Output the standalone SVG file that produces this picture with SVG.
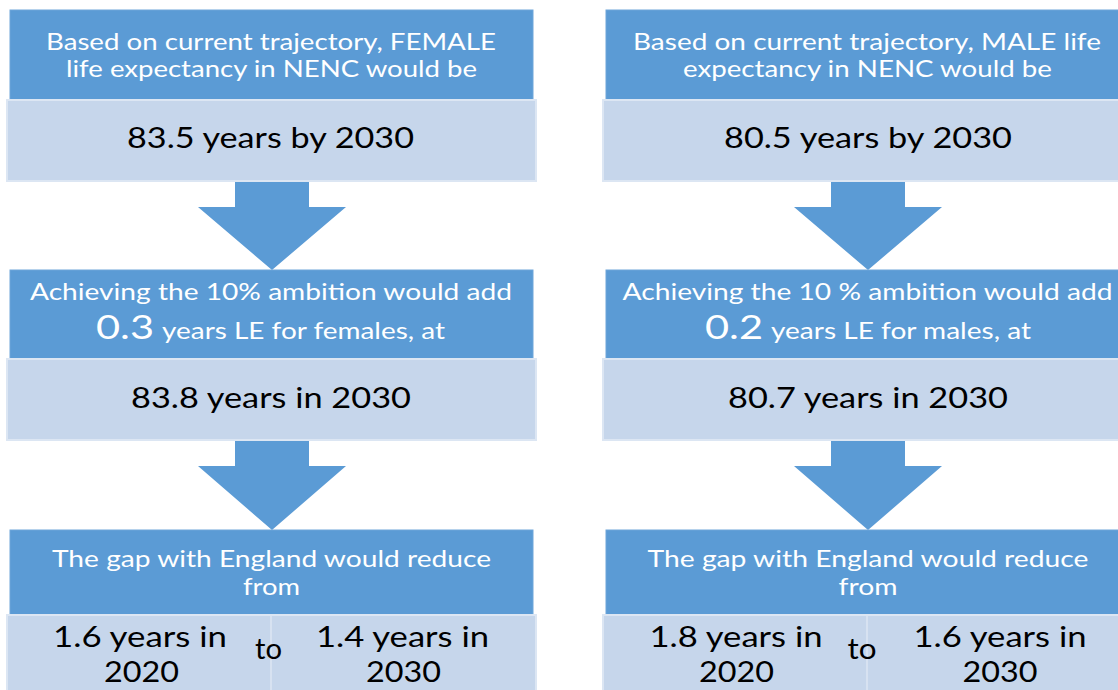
<svg xmlns="http://www.w3.org/2000/svg" width="1118" height="690" viewBox="0 0 1118 690">
<style>
.dark{fill:#5B9BD5;stroke:#6FA6DA;stroke-width:1}
.light{fill:#C6D6EB;stroke:#DCE6F3;stroke-width:2}
.arrow{fill:#5B9BD5}
.wt{font-family:Lato,"Liberation Sans",sans-serif;font-size:23.5px;fill:#FFFFFF;text-anchor:middle}
.ws{font-family:Lato,"Liberation Sans",sans-serif;font-size:23.5px;fill:#FFFFFF}
.bt{font-family:Lato,"Liberation Sans",sans-serif;font-size:28px;fill:#000000;text-anchor:middle}
.big{font-family:Lato,"Liberation Sans",sans-serif;font-size:32px;fill:#FFFFFF}
.div{stroke:#DCE6F3;stroke-width:1.5}
</style>
<rect width="1118" height="690" fill="#FFFFFF"/>
<g id="connectors">
<polygon class="arrow" points="235,181 309,181 309,207 346,207 272,270 198,207 235,207"/>
<polygon class="arrow" points="235,440 309,440 309,466 346,466 272,530 198,466 235,466"/>
<polygon class="arrow" points="831,181 905,181 905,207 942,207 868,270 794,207 831,207"/>
<polygon class="arrow" points="831,440 905,440 905,466 942,466 868,530 794,466 831,466"/>
</g>
<g id="female-trajectory">
<rect class="dark" x="10" y="10" width="523" height="90"/>
<text class="wt" x="271" y="50" textLength="450" lengthAdjust="spacingAndGlyphs">Based on current trajectory, FEMALE</text>
<text class="wt" x="271.5" y="77" textLength="411" lengthAdjust="spacingAndGlyphs">life expectancy in NENC would be</text>
</g>
<g id="female-2030">
<rect class="light" x="7" y="100" width="529" height="81"/>
<text class="bt" x="270.5" y="148" textLength="287" lengthAdjust="spacingAndGlyphs">83.5 years by 2030</text>
</g>
<g id="female-ambition">
<rect class="dark" x="10" y="270" width="523" height="89"/>
<text class="wt" x="271" y="300" textLength="482" lengthAdjust="spacingAndGlyphs">Achieving the 10% ambition would add</text>
<text class="big" x="96" y="339" textLength="58" lengthAdjust="spacingAndGlyphs">0.3</text>
<text class="ws" x="162" y="339" textLength="283" lengthAdjust="spacingAndGlyphs">years LE for females, at</text>
</g>
<g id="female-ambition-2030">
<rect class="light" x="7" y="359" width="529" height="81"/>
<text class="bt" x="271" y="408" textLength="280" lengthAdjust="spacingAndGlyphs">83.8 years in 2030</text>
</g>
<g id="female-gap">
<rect class="dark" x="10" y="530" width="523" height="85"/>
<text class="wt" x="271.5" y="567" textLength="439" lengthAdjust="spacingAndGlyphs">The gap with England would reduce</text>
<text class="wt" x="271.5" y="595" textLength="57" lengthAdjust="spacingAndGlyphs">from</text>
</g>
<g id="female-gap-values">
<rect class="light" x="7" y="615" width="529" height="85"/>
<line class="div" x1="271" y1="616" x2="271" y2="690"/>
<text class="bt" x="140" y="647" textLength="174" lengthAdjust="spacingAndGlyphs">1.6 years in</text>
<text class="bt" x="141.5" y="682" textLength="75" lengthAdjust="spacingAndGlyphs">2020</text>
<text class="bt" x="268.5" y="659" textLength="27" lengthAdjust="spacingAndGlyphs">to</text>
<text class="bt" x="402.5" y="647" textLength="173" lengthAdjust="spacingAndGlyphs">1.4 years in</text>
<text class="bt" x="403.5" y="682" textLength="75" lengthAdjust="spacingAndGlyphs">2030</text>
</g>
<g id="male-trajectory">
<rect class="dark" x="606" y="10" width="530" height="90"/>
<text class="wt" x="867" y="50" textLength="468" lengthAdjust="spacingAndGlyphs">Based on current trajectory, MALE life</text>
<text class="wt" x="867.5" y="77" textLength="369" lengthAdjust="spacingAndGlyphs">expectancy in NENC would be</text>
</g>
<g id="male-2030">
<rect class="light" x="603" y="100" width="540" height="81"/>
<text class="bt" x="868" y="148" textLength="288" lengthAdjust="spacingAndGlyphs">80.5 years by 2030</text>
</g>
<g id="male-ambition">
<rect class="dark" x="606" y="270" width="530" height="89"/>
<text class="wt" x="867.5" y="300" textLength="490" lengthAdjust="spacingAndGlyphs">Achieving the 10 % ambition would add</text>
<text class="big" x="705" y="339" textLength="58" lengthAdjust="spacingAndGlyphs">0.2</text>
<text class="ws" x="771" y="339" textLength="260" lengthAdjust="spacingAndGlyphs">years LE for males, at</text>
</g>
<g id="male-ambition-2030">
<rect class="light" x="603" y="359" width="540" height="81"/>
<text class="bt" x="868" y="408" textLength="280" lengthAdjust="spacingAndGlyphs">80.7 years in 2030</text>
</g>
<g id="male-gap">
<rect class="dark" x="606" y="530" width="530" height="85"/>
<text class="wt" x="868" y="567" textLength="441" lengthAdjust="spacingAndGlyphs">The gap with England would reduce</text>
<text class="wt" x="868" y="595" textLength="59" lengthAdjust="spacingAndGlyphs">from</text>
</g>
<g id="male-gap-values">
<rect class="light" x="603" y="615" width="540" height="85"/>
<line class="div" x1="867" y1="616" x2="867" y2="690"/>
<text class="bt" x="736" y="647" textLength="173" lengthAdjust="spacingAndGlyphs">1.8 years in</text>
<text class="bt" x="736.5" y="682" textLength="75" lengthAdjust="spacingAndGlyphs">2020</text>
<text class="bt" x="862" y="659" textLength="29" lengthAdjust="spacingAndGlyphs">to</text>
<text class="bt" x="1000" y="647" textLength="173" lengthAdjust="spacingAndGlyphs">1.6 years in</text>
<text class="bt" x="1000" y="682" textLength="75" lengthAdjust="spacingAndGlyphs">2030</text>
</g>
</svg>
